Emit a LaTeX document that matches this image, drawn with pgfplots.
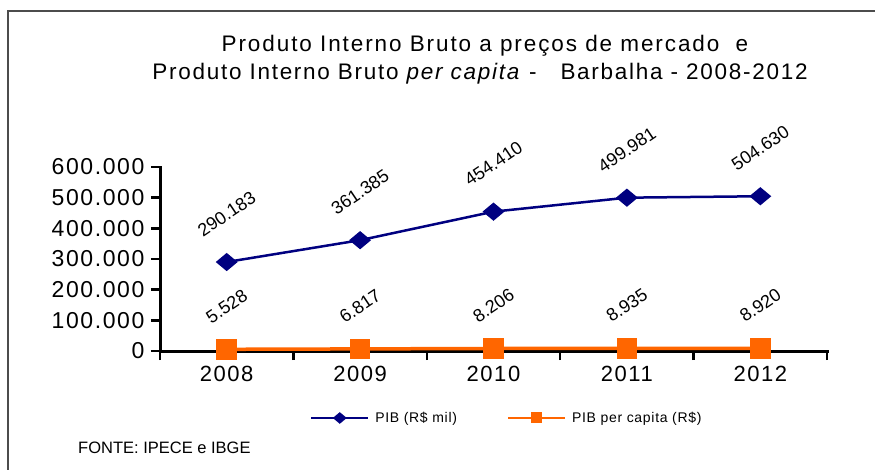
\documentclass[border=0pt]{standalone}
\usepackage{fontspec}
\setmainfont{Liberation Sans}
\newfontfamily\tickfont[LetterSpace=7]{Liberation Sans}
\newfontfamily\titlefont[LetterSpace=8.5]{Liberation Sans}
\newfontfamily\titlefontb[LetterSpace=7.7]{Liberation Sans}
\newfontfamily\legfont[LetterSpace=5]{Liberation Sans}
\usepackage{pgfplots}
\pgfplotsset{compat=1.18}
\definecolor{pibblue}{RGB}{0,0,128}
\definecolor{piborange}{RGB}{255,102,0}
\begin{document}
\begin{tikzpicture}[x=1pt,y=1pt]
\path[use as bounding box] (0,0) rectangle (875,469);
\draw[line width=1.3pt, black!70] (8,-5) -- (8,458) -- (880,458);
\node[anchor=base, inner sep=0pt, font=\titlefont\fontsize{22.5}{26}\selectfont] at (485,417) {Produto Interno Bruto a preços de mercado\ \ e};
\node[anchor=base, inner sep=0pt, font=\titlefontb\fontsize{22.5}{26}\selectfont] at (480,389) {Produto Interno Bruto \textit{per capita} -\ \ \ Barbalha - 2008-2012};
\node[anchor=base west, inner sep=0pt, font=\fontsize{16.5}{19}\selectfont] at (78,16) {FONTE: IPECE e IBGE};
\begin{axis}[
  at={(160pt,118pt)}, anchor=south west,
  scale only axis, width=667pt, height=184pt,
  xmin=0.5, xmax=5.5, ymin=0, ymax=600000,
  axis lines*=left,
  axis line style={line width=3pt, line cap=rect},
  clip=false,
  scaled y ticks=false,
  /pgf/number format/.cd, fixed, precision=0, 1000 sep={.}, assume math mode=true,
  /pgfplots/.cd,
  ytick={0,100000,200000,300000,400000,500000,600000},
  tick align=outside,
  major tick length=9pt,
  ytick style={line width=2.5pt, black},
  yticklabel style={font=\tickfont\fontsize{23}{27}\selectfont, xshift=-3pt},
  xtick={1,2,3,4,5},
  xticklabels={2008,2009,2010,2011,2012},
  xtick style={draw=none},
  xticklabel style={font=\tickfont\fontsize{22}{26}\selectfont, yshift=-3pt},
  extra x ticks={0.5,1.5,2.5,3.5,4.5,5.5},
  extra x tick labels={},
  extra x tick style={xtick style={line width=2.5pt, black, draw=black}},
  nodes near coords,
  legend columns=2,
  legend style={at={(0.225,-0.364)}, anchor=west, draw=none, fill=none,
    font=\legfont\fontsize{14}{17}\selectfont, inner sep=0pt,
    /tikz/every odd column/.append style={column sep=4pt},
    /tikz/every even column/.append style={column sep=48pt}},
  legend image code/.code={\draw[mark repeat=2, mark phase=2, #1, mark size=4.5pt, line width=2pt] plot coordinates {(0pt,0pt) (28.5pt,0pt) (57pt,0pt)};},
]
\addplot[pibblue, line width=2.5pt, mark=diamond*, mark size=7.5pt, mark options={xscale=1.6, solid},
  every node near coord/.append style={font=\fontsize{18}{21}\selectfont, black, anchor=center, yshift=48pt, rotate=34}] coordinates {
  (1,290183) (2,361385) (3,454410) (4,499981) (5,504630)};
\addlegendentry{PIB (R\$ mil)}
\addplot[piborange, line width=3.5pt, mark=square*, mark size=8.5pt, mark options={solid},
  every node near coord/.append style={font=\fontsize{18}{21}\selectfont, black, anchor=center, yshift=43pt, rotate=34}] coordinates {
  (1,5528) (2,6817) (3,8206) (4,8935) (5,8920)};
\addlegendentry{PIB per capita (R\$)}
\end{axis}
\end{tikzpicture}
\end{document}
